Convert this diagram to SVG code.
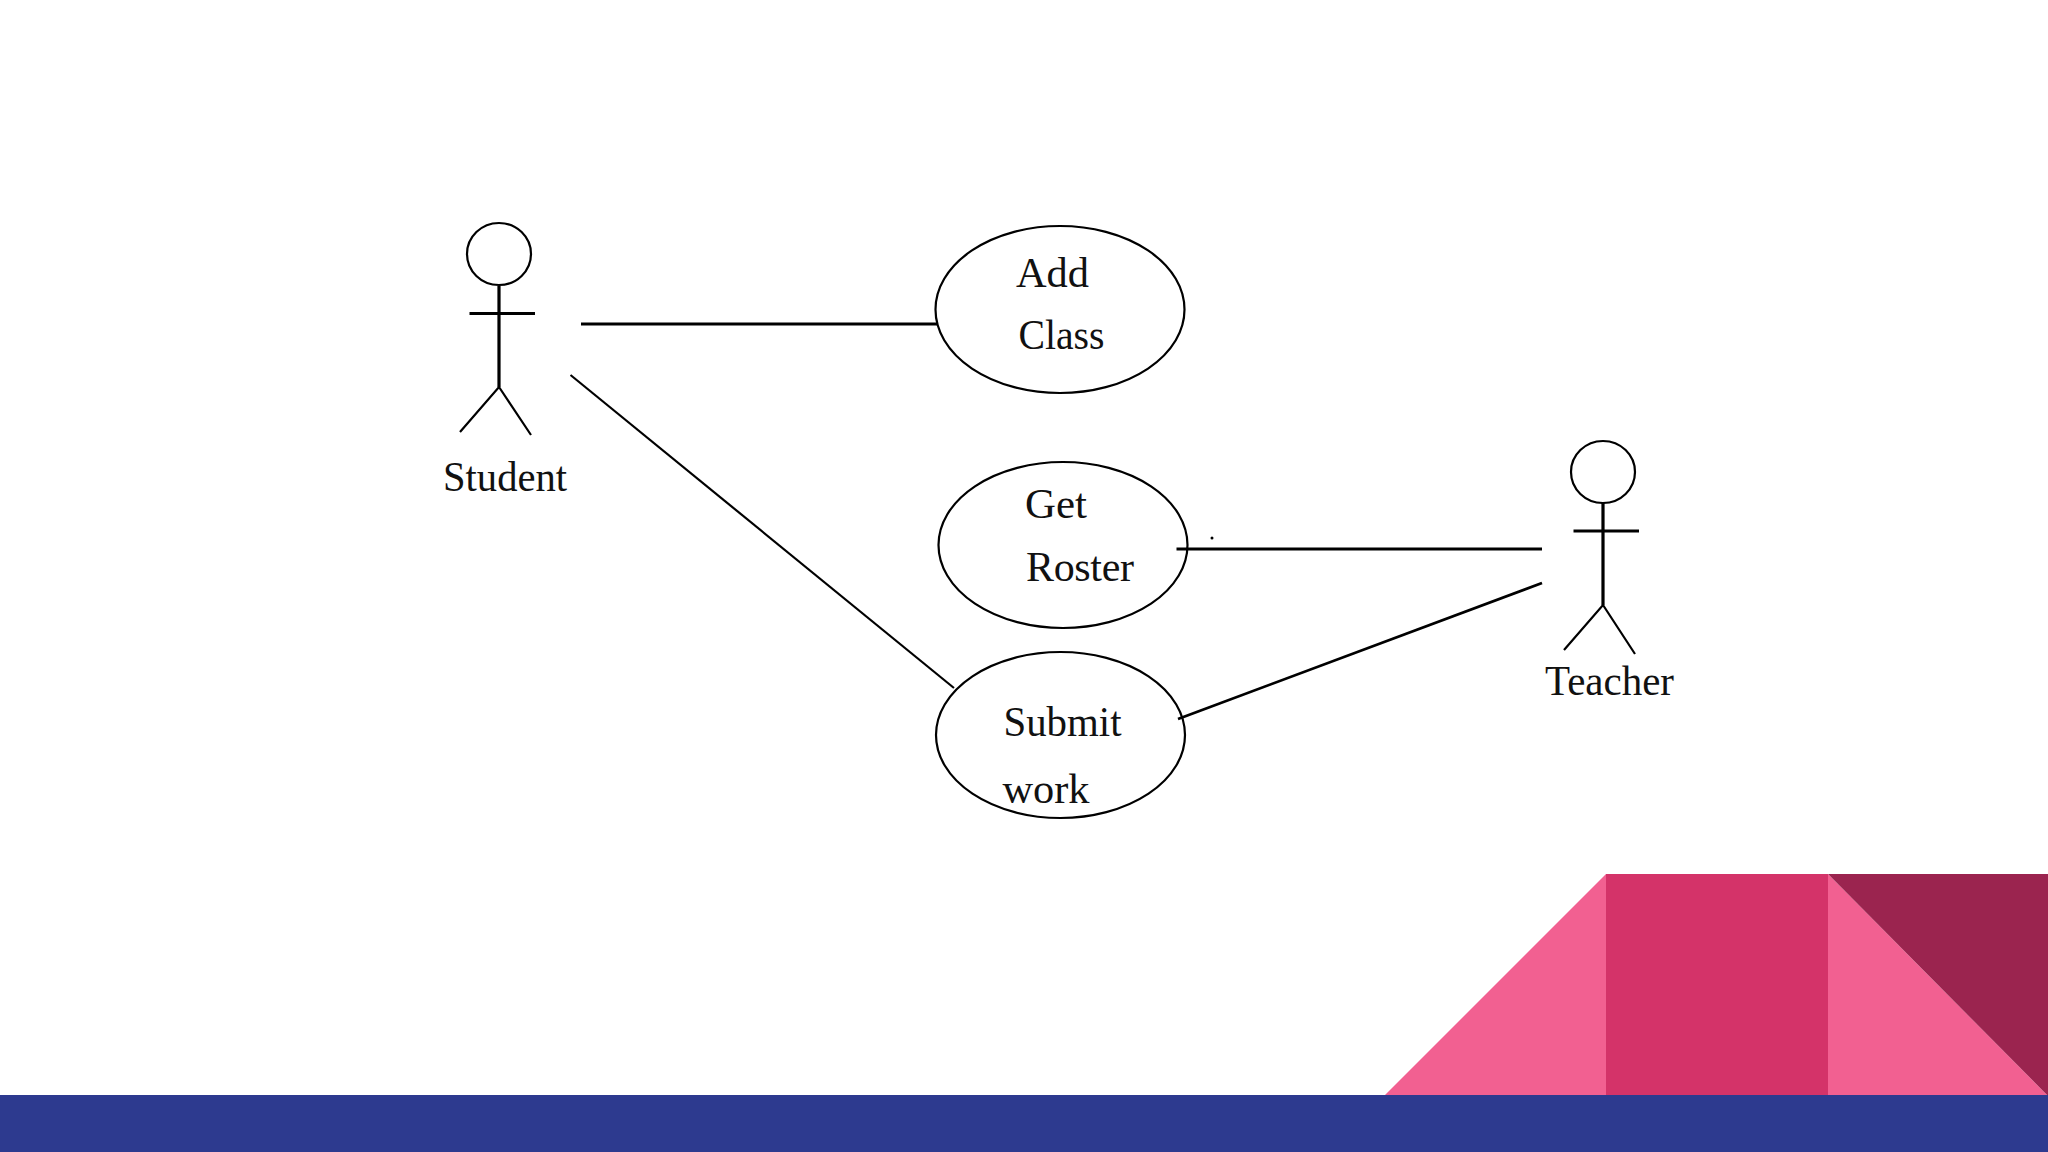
<svg xmlns="http://www.w3.org/2000/svg" width="2048" height="1152" viewBox="0 0 2048 1152">
<style>
.s{fill:none;stroke:#000;stroke-width:2.2}
.b{fill:none;stroke:#000;stroke-width:3.2}
.t{font-family:"Liberation Serif","Times New Roman",serif;font-size:42px;fill:#111}
</style>
<rect width="2048" height="1152" fill="#fff"/>
<g id="decor">
<polygon points="1384,1096 1606,874 1606,1096" fill="#f26091"/>
<rect x="1606" y="874" width="222" height="222" fill="#d43369"/>
<polygon points="1828,874 2048,1096 1828,1096" fill="#f26091"/>
<polygon points="1828,874 2048,874 2048,1096" fill="#9b244f"/>
<rect x="0" y="1095" width="2048" height="57" fill="#2d3a8f"/>
</g>
<g id="connectors">
<line class="b" x1="581" y1="324" x2="938" y2="324"/>
<line class="s" x1="570.5" y1="375" x2="954" y2="688"/>
<line class="b" x1="1176.5" y1="549" x2="1542" y2="549"/>
<line class="s" x1="1178" y1="719" x2="1542" y2="583" style="stroke-width:2.8"/>
</g>
<g id="student">
<ellipse class="s" cx="499" cy="254" rx="32" ry="31"/>
<path class="b" d="M499 286V387M469.500 313.500H535"/>
<path class="s" d="M460 432L499 387L531 435"/>
<text class="t" x="443" y="491" textLength="124" lengthAdjust="spacingAndGlyphs">Student</text>
</g>
<g id="add-class">
<ellipse class="s" cx="1060" cy="309.500" rx="124.500" ry="83.500"/>
<text class="t" x="1016" y="287" textLength="73" lengthAdjust="spacingAndGlyphs">Add</text>
<text class="t" x="1018.500" y="349" textLength="86" lengthAdjust="spacingAndGlyphs">Class</text>
</g>
<g id="get-roster">
<ellipse class="s" cx="1063" cy="545" rx="124.500" ry="83"/>
<text class="t" x="1025" y="518" textLength="62" lengthAdjust="spacingAndGlyphs">Get</text>
<text class="t" x="1026" y="581" textLength="108" lengthAdjust="spacing">Roster</text>
<circle cx="1212" cy="538" r="1.500" fill="#000"/>
</g>
<g id="submit-work">
<ellipse class="s" cx="1060.500" cy="735" rx="124.500" ry="83"/>
<text class="t" x="1003.500" y="736" textLength="118" lengthAdjust="spacingAndGlyphs">Submit</text>
<text class="t" x="1002.500" y="803" textLength="87" lengthAdjust="spacingAndGlyphs">work</text>
</g>
<g id="teacher">
<ellipse class="s" cx="1603" cy="472" rx="32" ry="31"/>
<path class="b" d="M1603 503V605M1573.500 531H1639"/>
<path class="s" d="M1564 650L1603 605L1635 654"/>
<text class="t" x="1545" y="695" textLength="129" lengthAdjust="spacingAndGlyphs">Teacher</text>
</g>
</svg>
